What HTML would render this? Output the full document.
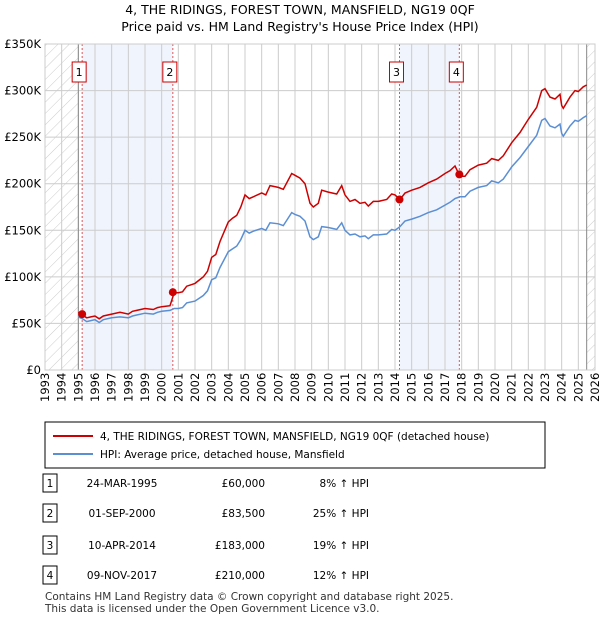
<!DOCTYPE html>
<html><head><meta charset="utf-8"><style>
body{margin:0;background:#fff;font-family:"Liberation Sans","DejaVu Sans",sans-serif;}
svg text{font-family:"DejaVu Sans","Liberation Sans",sans-serif;}
</style></head><body>
<svg id="c" width="600" height="620" xmlns="http://www.w3.org/2000/svg">
<defs><pattern id="hatch" width="8" height="8" patternUnits="userSpaceOnUse" patternTransform="rotate(45)"><line x1="0" y1="0" x2="0" y2="8" stroke="#ccc" stroke-width="1"/></pattern></defs>
<text x="300" y="14" text-anchor="middle" font-size="12.5">4, THE RIDINGS, FOREST TOWN, MANSFIELD, NG19 0QF</text>
<text x="300" y="31" text-anchor="middle" font-size="12.5">Price paid vs. HM Land Registry's House Price Index (HPI)</text>
<g id="plot"></g>
<rect x="45" y="422" width="500" height="46" fill="#fff" stroke="#000"/>
<line x1="53" y1="436" x2="93" y2="436" stroke="#cc0000" stroke-width="2"/>
<text x="100" y="440" font-size="10.5">4, THE RIDINGS, FOREST TOWN, MANSFIELD, NG19 0QF (detached house)</text>
<line x1="53" y1="454" x2="93" y2="454" stroke="#5b8fd4" stroke-width="2"/>
<text x="100" y="458" font-size="10.5">HPI: Average price, detached house, Mansfield</text>
<g id="table" font-size="10.5"></g>
<text x="45" y="600" font-size="10.5" fill="#333">Contains HM Land Registry data © Crown copyright and database right 2025.</text>
<text x="45" y="612" font-size="10.5" fill="#333">This data is licensed under the Open Government Licence v3.0.</text>
</svg>
<script>
const dates=[1995.0,1995.25,1995.5,1995.75,1996.0,1996.25,1996.5,1997.0,1997.5,1998.0,1998.25,1998.5,1999.0,1999.5,1999.75,2000.0,2000.5,2000.75,2001.0,2001.25,2001.5,2002.0,2002.5,2002.75,2003.0,2003.25,2003.5,2004.0,2004.25,2004.5,2004.75,2005.0,2005.25,2005.5,2006.0,2006.25,2006.5,2007.0,2007.3,2007.8,2008.0,2008.3,2008.6,2008.9,2009.1,2009.4,2009.6,2010.0,2010.5,2010.8,2011.0,2011.3,2011.6,2011.9,2012.2,2012.4,2012.7,2013.0,2013.5,2013.8,2014.0,2014.3,2014.6,2015.0,2015.5,2016.0,2016.5,2017.0,2017.3,2017.6,2017.9,2018.2,2018.5,2019.0,2019.5,2019.8,2020.2,2020.5,2021.0,2021.5,2022.0,2022.5,2022.8,2023.0,2023.3,2023.6,2023.9,2024.0,2024.1,2024.5,2024.8,2025.0,2025.3,2025.5];
const hpi=[57,55,52,53,54,51,54,56,57,56,58,59,61,60,62,63,64,66,66,67,72,74,80,85,97,99,110,127,130,133,140,150,147,149,152,150,158,157,155,169,167,165,160,143,140,143,154,153,151,158,150,145,146,143,144,141,145,145,146,151,150,154,160,162,165,169,172,177,180,184,186,186,192,196,198,203,201,205,218,228,240,252,268,270,262,260,264,254,251,262,268,267,271,273];
const red=[62,59,56,57,58,55,58,60,62,60,63,64,66,65,67,68,69,83,83,84,90,93,100,106,121,124,138,159,163,166,175,188,184,186,190,188,198,196,194,211,209,206,200,179,175,179,193,191,189,198,188,181,183,179,180,176,181,181,183,189,188,183,190,193,196,201,205,211,214,219,208,208,215,220,222,227,225,230,244,255,269,282,300,302,293,291,296,284,281,293,300,299,304,306];
const saleDates=[1995.23,2000.67,2014.27,2017.86];
const salePrices=[60,83.5,183,210];
const saleLabels=["1","2","3","4"];
const saleDateText=["24-MAR-1995","01-SEP-2000","10-APR-2014","09-NOV-2017"];
const salePriceText=["£60,000","£83,500","£183,000","£210,000"];
const saleHpiText=["8% ↑ HPI","25% ↑ HPI","19% ↑ HPI","12% ↑ HPI"];
const yTicks=[0,50,100,150,200,250,300,350];
const yTickLabels=["£0","£50K","£100K","£150K","£200K","£250K","£300K","£350K"];
const NS="http://www.w3.org/2000/svg";
const X0=45,X1=595,Y0=370,Y1=44,T0=1993,T1=2026,V1=350;
const xs=t=>X0+(t-T0)/(T1-T0)*(X1-X0);
const ys=v=>Y0-v/V1*(Y0-Y1);
const plot=document.getElementById('plot');
function mk(tag,attrs,parent){const e=document.createElementNS(NS,tag);for(const k in attrs)e.setAttribute(k,attrs[k]);(parent||plot).appendChild(e);return e;}
let e;
e=mk('rect',{x:X0,y:Y1,width:X1-X0,height:Y0-Y1,fill:'#fff'});


const dataEnd=2025.5;
e=mk('rect',{x:X0,y:Y1,width:xs(1995)-X0,height:Y0-Y1,fill:'url(#hatch)'});


e=mk('rect',{x:xs(dataEnd),y:Y1,width:X1-xs(dataEnd),height:Y0-Y1,fill:'url(#hatch)'});


for(let i=0;i<saleDates.length;i+=2){
 e=mk('rect',{x:xs(saleDates[i]),y:Y1,width:xs(saleDates[i+1])-xs(saleDates[i]),height:Y0-Y1,fill:'#f0f4fd'});
 
 
}
for(let y=T0;y<=T1;y++){
 e=mk('line',{x1:xs(y),x2:xs(y),y1:Y1,y2:Y0,stroke:'#ccc','stroke-width':1});
 
 
 e=mk('text',{transform:`translate(${xs(y)+4},${Y0+32}) rotate(-90)`,'font-size':11.5});
 e.textContent=String(y);
 
 
}
yTicks.forEach((v,i)=>{
 e=mk('line',{x1:X0,x2:X1,y1:ys(v),y2:ys(v),stroke:'#ccc','stroke-width':1});
 
 
 e=mk('text',{x:X0-4,y:ys(v)+4,'text-anchor':'end','font-size':11.5});
 e.textContent=yTickLabels[i];
 
 
});
e=mk('line',{x1:xs(1995),x2:xs(1995),y1:Y1,y2:Y0,stroke:'#888'});


e=mk('line',{x1:xs(dataEnd),x2:xs(dataEnd),y1:Y1,y2:Y0,stroke:'#888'});


saleDates.forEach((d,i)=>{
 e=mk('line',{x1:xs(d),x2:xs(d),y1:Y1,y2:Y0,stroke:'#e05555','stroke-dasharray':'2,2'});
 
 
 const g=mk('g',{});
 
 
 mk('rect',{x:xs(d)-10,y:62,width:14,height:20,fill:'#fff',stroke:'#cc0000'},g);
 const t=mk('text',{x:xs(d)-3,y:76,'text-anchor':'middle','font-size':11},g);
 t.textContent=saleLabels[i];
});
e=mk('path',{d:dates.map((t,i)=>(i?'L':'M')+xs(t).toFixed(1)+','+ys(hpi[i]).toFixed(1)).join(''),fill:'none',stroke:'#5b8fd4','stroke-width':1.5});


e=mk('path',{d:dates.map((t,i)=>(i?'L':'M')+xs(t).toFixed(1)+','+ys(red[i]).toFixed(1)).join(''),fill:'none',stroke:'#cc0000','stroke-width':1.5});


saleDates.forEach((d,i)=>{
 e=mk('circle',{cx:xs(d),cy:ys(salePrices[i]),r:4,fill:'#cc0000'});
 
 
});
e=mk('rect',{x:X0,y:Y1,width:X1-X0,height:Y0-Y1,fill:'none',stroke:'#ccc'});


const tb=document.getElementById('table');
const rowY=[483,513,545,575];
saleDates.forEach((d,i)=>{
 const y=rowY[i];
 const g=mk('g',{},tb);
 
 
 mk('rect',{x:43,y:y-9,width:14,height:18,fill:'#fff',stroke:'#000'},g);
 let t=mk('text',{x:50,y:y+4,'text-anchor':'middle'},g);t.textContent=saleLabels[i];
 t=mk('text',{x:122,y:y+4,'text-anchor':'middle'},g);t.textContent=saleDateText[i];
 t=mk('text',{x:265,y:y+4,'text-anchor':'end'},g);t.textContent=salePriceText[i];
 t=mk('text',{x:369,y:y+4,'text-anchor':'end'},g);t.textContent=saleHpiText[i];
});
</script>
</body></html>
